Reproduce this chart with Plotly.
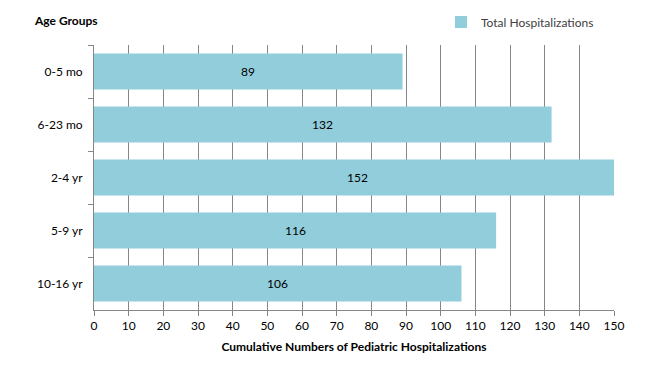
import plotly.graph_objects as go

categories = ["0-5 mo", "6-23 mo", "2-4 yr", "5-9 yr", "10-16 yr"]
values = [89, 132, 152, 116, 106]
x_ticks = list(range(0, 151, 10))

FONT = "Lato"
fig = go.Figure()
fig.add_trace(go.Bar(
    y=categories, x=values, orientation="h",
    name="Total Hospitalizations",
    marker=dict(color="#92CDDC", line=dict(width=0)),
    textposition="none",
))
annotations = [dict(x=v / 2, y=c, xref="x", yref="y", text=str(v), showarrow=False,
                    xanchor="center", yanchor="middle",
                    font=dict(size=12, family=FONT, color="#000000"))
               for c, v in zip(categories, values)]
annotations.append(dict(text="<b>Age Groups</b>", xref="paper", yref="paper",
                        x=(32 - 94) / 520, y=(310 - 20) / 265, xanchor="left",
                        yanchor="middle", showarrow=False,
                        font=dict(size=12, family=FONT, color="#000000")))
fig.update_layout(
    width=650, height=370,
    margin=dict(l=86, r=44, t=37, b=68, autoexpand=False),
    paper_bgcolor="white", plot_bgcolor="white",
    font=dict(family=FONT, size=12, color="#000000"),
    bargap=0.32,
    showlegend=True,
    legend=dict(x=(441 - 94) / 520, y=(310 - 22) / 265, xanchor="left", yanchor="middle",
                orientation="h", font=dict(size=12, family=FONT, color="#404040"),
                itemwidth=30, bgcolor="rgba(0,0,0,0)"),
    xaxis=dict(range=[0, 150], tickvals=x_ticks, showgrid=True,
               gridcolor="#868686", gridwidth=1, showline=True,
               linecolor="#868686", ticks="outside", ticklen=5,
               tickcolor="#868686", zeroline=False, automargin=False,
               title=dict(text="<b>Cumulative Numbers of Pediatric Hospitalizations</b>",
                          font=dict(size=12, family=FONT), standoff=10),
               tickfont=dict(size=12, family=FONT)),
    yaxis=dict(categoryorder="array", categoryarray=categories, autorange="reversed",
               showline=True, linecolor="#868686", ticks="outside", ticklen=5,
               tickcolor="#868686", tickson="boundaries", showgrid=False,
               automargin=False,
               tickfont=dict(size=12, family=FONT), ticklabelstandoff=8),
    annotations=annotations,
)
fig.write_html("out.html")
